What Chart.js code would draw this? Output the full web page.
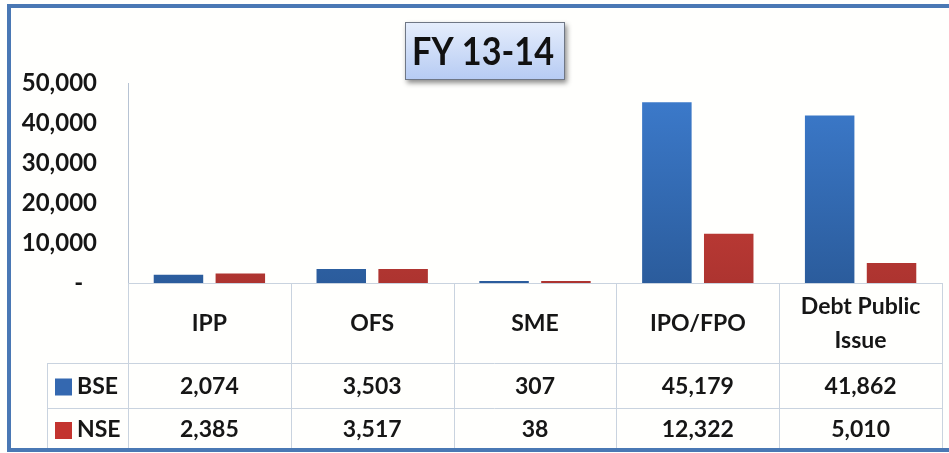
<!DOCTYPE html>
<html>
<head>
<meta charset="utf-8">
<script src="https://cdn.jsdelivr.net/npm/chart.js@4.4.1/dist/chart.umd.min.js"></script>
<style>
  html, body { margin: 0; padding: 0; background: #ffffff; }
  #wrap { position: relative; width: 949px; height: 453px; }
</style>
</head>
<body>
<div id="wrap"><canvas id="c" width="949" height="453"></canvas></div>
<script>
// ---- data ----
const TITLE = 'FY 13-14';
const categories = ['IPP', 'OFS', 'SME', 'IPO/FPO', ['Debt Public', 'Issue']];
const seriesNames = ['BSE', 'NSE'];
const bseValues = [2074, 3503, 307, 45179, 41862];
const nseValues = [2385, 3517, 38, 12322, 5010];
const yTickValues = [0, 10000, 20000, 30000, 40000, 50000];

// ---- styles ----
const FONT = 'Lato, "Open Sans", sans-serif';
const TEXT = '#161616';
const GRID = '#c9d3df';
const BLUE_TOP = '#3d7cce', BLUE_BOT = '#2b5c9c';
const RED_TOP = '#d6443c', RED_BOT = '#ad3430';
const BLUE_KEY = '#3468b0', RED_KEY = '#c3342f';

function fmt(v) { return v.toLocaleString('en-US'); }

function grad(top, bot) {
  return function (ctx) {
    const chart = ctx.chart;
    const a = chart.chartArea;
    if (!a) return top;
    const g = chart.ctx.createLinearGradient(0, a.top, 0, a.bottom);
    g.addColorStop(0, top);
    g.addColorStop(1, bot);
    return g;
  };
}

const framePlugin = {
  id: 'frame',
  beforeDraw(chart) {
    const c = chart.ctx;
    c.save();
    c.fillStyle = '#fffffd';
    c.fillRect(0, 0, chart.width, chart.height);
    c.restore();
  },
  afterDraw(chart) {
    const c = chart.ctx;
    const x = chart.scales.x;
    const area = chart.chartArea;
    const half = (x.getPixelForValue(1) - x.getPixelForValue(0)) / 2;
    const rowTop = area.bottom, rowCat = 363, rowBse = 408, rowEnd = 450;
    const legLeft = 47;

    c.save();
    // grid lines of the data table
    c.strokeStyle = GRID;
    c.lineWidth = 1;
    c.beginPath();
    c.moveTo(area.left, rowTop + 0.5); c.lineTo(area.right, rowTop + 0.5);
    c.moveTo(legLeft, rowCat + 0.5); c.lineTo(area.right, rowCat + 0.5);
    c.moveTo(legLeft, rowBse + 0.5); c.lineTo(area.right, rowBse + 0.5);
    c.moveTo(legLeft + 0.5, rowCat); c.lineTo(legLeft + 0.5, rowEnd);
    c.moveTo(Math.round(area.left) + 0.5, rowTop); c.lineTo(Math.round(area.left) + 0.5, rowEnd);
    for (let i = 0; i < categories.length; i++) {
      const r = Math.round(x.getPixelForValue(i) + half) + 0.5;
      c.moveTo(r, rowTop); c.lineTo(r, rowEnd);
    }
    c.stroke();

    // category labels
    c.fillStyle = TEXT;
    c.textAlign = 'center';
    c.textBaseline = 'middle';
    c.font = 'bold 23px ' + FONT;
    const catMid = (rowTop + rowCat) / 2 + 1;
    categories.forEach((lab, i) => {
      const cx = x.getPixelForValue(i);
      const lines = Array.isArray(lab) ? lab : [lab];
      const lh = 34;
      lines.forEach((ln, j) => {
        c.fillText(ln, cx, catMid + (j - (lines.length - 1) / 2) * lh);
      });
    });

    // values rows
    const rows = [
      { name: seriesNames[0], vals: bseValues, key: BLUE_KEY, mid: (rowCat + rowBse) / 2 + 1 },
      { name: seriesNames[1], vals: nseValues, key: RED_KEY, mid: (rowBse + rowEnd) / 2 + 1 }
    ];
    rows.forEach(r => {
      c.font = 'bold 23px ' + FONT;
      c.textAlign = 'center';
      r.vals.forEach((v, i) => c.fillText(fmt(v), x.getPixelForValue(i), r.mid));
      c.fillStyle = r.key;
      c.fillRect(55, r.mid - 8, 17, 17);
      c.fillStyle = TEXT;
      c.textAlign = 'left';
      c.fillText(r.name, 77, r.mid);
    });

    // title box
    const bx = 405, by = 22, bw = 160, bh = 58;
    c.save();
    c.shadowColor = 'rgba(0,0,0,0.45)';
    c.shadowBlur = 5;
    c.shadowOffsetX = 2;
    c.shadowOffsetY = 3;
    const tg = c.createLinearGradient(0, by, 0, by + bh);
    tg.addColorStop(0, '#e6eefc');
    tg.addColorStop(1, '#b6cbf3');
    c.fillStyle = tg;
    c.fillRect(bx, by, bw, bh);
    c.restore();
    c.strokeStyle = '#6f7785';
    c.lineWidth = 1;
    c.strokeRect(bx + 0.5, by + 0.5, bw - 1, bh - 1);
    c.fillStyle = '#111111';
    c.textAlign = 'center';
    c.textBaseline = 'middle';
    c.font = 'bold 36px ' + FONT;
    c.save();
    c.translate(bx + bw / 2 - 2, by + bh / 2 + 1);
    c.scale(0.95, 1.08);
    c.fillText(TITLE, 0, 0);
    c.restore();

    // outer frame
    c.strokeStyle = '#4a78b4';
    c.lineWidth = 4;
    c.beginPath();
    c.moveTo(960, 6); c.lineTo(9, 6); c.lineTo(9, 450); c.lineTo(960, 450);
    c.stroke();
    c.restore();
  }
};

new Chart(document.getElementById('c'), {
  type: 'bar',
  data: {
    labels: categories,
    datasets: [
      { label: seriesNames[0], data: bseValues, backgroundColor: grad(BLUE_TOP, BLUE_BOT), borderWidth: 0, minBarLength: 2 },
      { label: seriesNames[1], data: nseValues, backgroundColor: grad(RED_TOP, RED_BOT), borderWidth: 0, minBarLength: 2 }
    ]
  },
  options: {
    responsive: false,
    animation: false,
    devicePixelRatio: 1,
    layout: { padding: { left: 0, right: 7, top: 83, bottom: 170 } },
    datasets: { bar: { categoryPercentage: 0.76, barPercentage: 0.8 } },
    plugins: { legend: { display: false }, tooltip: { enabled: false }, title: { display: false } },
    scales: {
      x: { display: false },
      y: {
        min: 0, max: 50000,
        afterBuildTicks(s) { s.ticks = yTickValues.map(v => ({ value: v })); },
        afterFit(s) { s.width = 128; },
        grid: { display: false, drawTicks: false },
        border: { display: true, color: '#b7c3d3', width: 1 },
        ticks: {
          padding: 31,
          color: TEXT,
          font: { family: FONT, size: 24, weight: 'bold' },
          callback(v) { return v === 0 ? '-\u2007' : fmt(v); }
        }
      }
    }
  },
  plugins: [framePlugin]
});
</script>
</body>
</html>
